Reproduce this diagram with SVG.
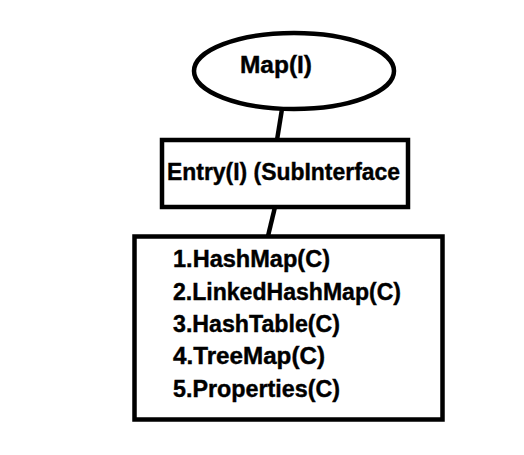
<svg xmlns="http://www.w3.org/2000/svg" width="524" height="455" viewBox="0 0 524 455">
<style>
.shape{fill:#fff;stroke:#000;stroke-width:4.5}
.conn{stroke:#000;stroke-width:4.5;fill:none}
.t{font-family:"Liberation Sans",Arial,sans-serif;font-weight:bold;font-size:23px;fill:#000;stroke:#000;stroke-width:0.4}
</style>
<rect width="524" height="455" fill="#fff"/>
<g id="connectors">
<line class="conn" x1="282" y1="109" x2="277" y2="140"/>
<line class="conn" x1="275" y1="207" x2="268" y2="236"/>
</g>
<g id="map">
<ellipse class="shape" cx="294" cy="71" rx="100" ry="38"/>
<text class="t" x="240" y="73" textLength="72" lengthAdjust="spacingAndGlyphs">Map(I)</text>
</g>
<g id="entry">
<rect class="shape" x="162" y="140" width="246" height="67"/>
<text class="t" x="167" y="180" textLength="233" lengthAdjust="spacingAndGlyphs">Entry(I) (SubInterface</text>
</g>
<g id="impls">
<rect class="shape" x="134.5" y="236.5" width="308" height="183" stroke-width="5"/>
<text class="t" x="173" y="267" textLength="157" lengthAdjust="spacingAndGlyphs">1.HashMap(C)</text>
<text class="t" x="173" y="300" textLength="228" lengthAdjust="spacingAndGlyphs">2.LinkedHashMap(C)</text>
<text class="t" x="173" y="332" textLength="167" lengthAdjust="spacingAndGlyphs">3.HashTable(C)</text>
<text class="t" x="173" y="364" textLength="152" lengthAdjust="spacingAndGlyphs">4.TreeMap(C)</text>
<text class="t" x="173" y="397" textLength="167" lengthAdjust="spacingAndGlyphs">5.Properties(C)</text>
</g>
</svg>
